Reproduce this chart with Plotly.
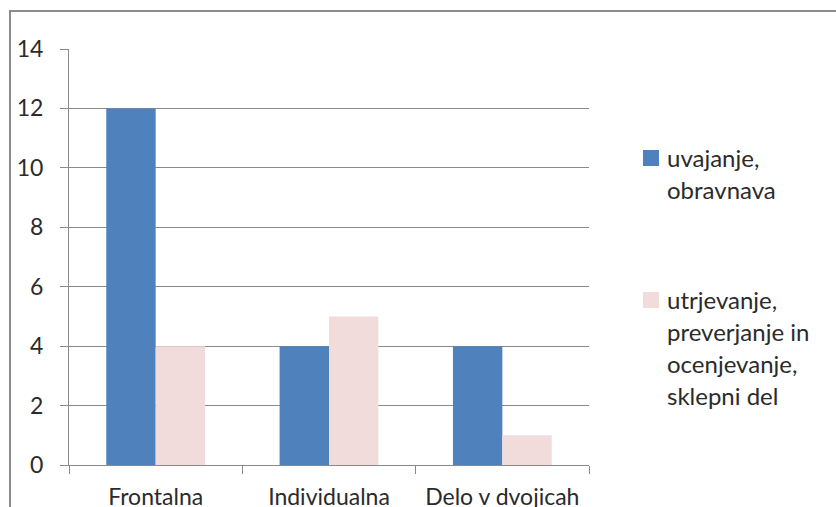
import plotly.graph_objects as go

# Data
categories = ["Frontalna", "Individualna", "Delo v dvojicah"]
series_names = ["uvajanje, obravnava", "utrjevanje, preverjanje in ocenjevanje, sklepni del"]
uvajanje = [12, 4, 4]
utrjevanje = [4, 5, 1]
legend_lines = [
    ["uvajanje,", "obravnava"],
    ["utrjevanje,", "preverjanje in", "ocenjevanje,", "sklepni del"],
]
colors = ["#4F81BD", "#F2DCDB"]

W, H = 836, 507
L, R, T, B = 69, 247, 49, 42
PW, PH = W - L - R, H - T - B
FONT = "Lato, 'Open Sans', sans-serif"
TXT = "#2b2b2b"
GRID = "#8a8a8a"


def px_x(x):
    return (x - L) / PW


def px_y(y):
    return (H - B - y) / PH


fig = go.Figure()
for name, vals, col in zip(series_names, [uvajanje, utrjevanje], colors):
    fig.add_trace(go.Bar(x=categories, y=vals, name=name, marker=dict(color=col, line=dict(width=0)),
                         showlegend=False))

fig.update_layout(
    width=W, height=H,
    margin=dict(l=L, r=R, t=T, b=B),
    paper_bgcolor="white", plot_bgcolor="white",
    barmode="group", bargap=0.43, bargroupgap=0,
    font=dict(family=FONT, size=23, color=TXT),
    xaxis=dict(
        type="category", showline=True, linecolor=GRID, linewidth=1, automargin=False,
        ticks="outside", tickson="boundaries", ticklen=8, tickcolor=GRID, tickwidth=1,
        showgrid=False, ticklabelstandoff=11, tickfont=dict(size=23, color=TXT),
        range=[-0.5, 2.5],
    ),
    yaxis=dict(
        range=[0, 14], dtick=2, tick0=0, showline=True, linecolor=GRID, linewidth=1,
        automargin=False,
        ticks="outside", ticklen=8, tickcolor=GRID, tickwidth=1,
        showgrid=True, gridcolor=GRID, gridwidth=1, zeroline=False,
        ticklabelstandoff=12, tickfont=dict(size=23, color=TXT),
    ),
)

# Chart frame
fig.add_shape(type="rect", xref="paper", yref="paper",
              x0=px_x(10), x1=px_x(845), y0=px_y(530), y1=px_y(11),
              line=dict(color="#8c8c8c", width=2), fillcolor="rgba(0,0,0,0)", layer="above")

# Legend: colour swatches and wrapped labels
legend_tops = [150, 292]
for lines, col, top in zip(legend_lines, colors, legend_tops):
    fig.add_shape(type="rect", xref="paper", yref="paper",
                  x0=px_x(643), x1=px_x(659), y0=px_y(top + 16), y1=px_y(top),
                  line=dict(width=0), fillcolor=col)
    for i, line in enumerate(lines):
        fig.add_annotation(xref="paper", yref="paper", x=px_x(665), y=px_y(top + 7 + 32 * i),
                           text=line, showarrow=False, xanchor="left", yanchor="middle",
                           font=dict(family=FONT, size=24, color=TXT))

fig.write_html("out.html")
